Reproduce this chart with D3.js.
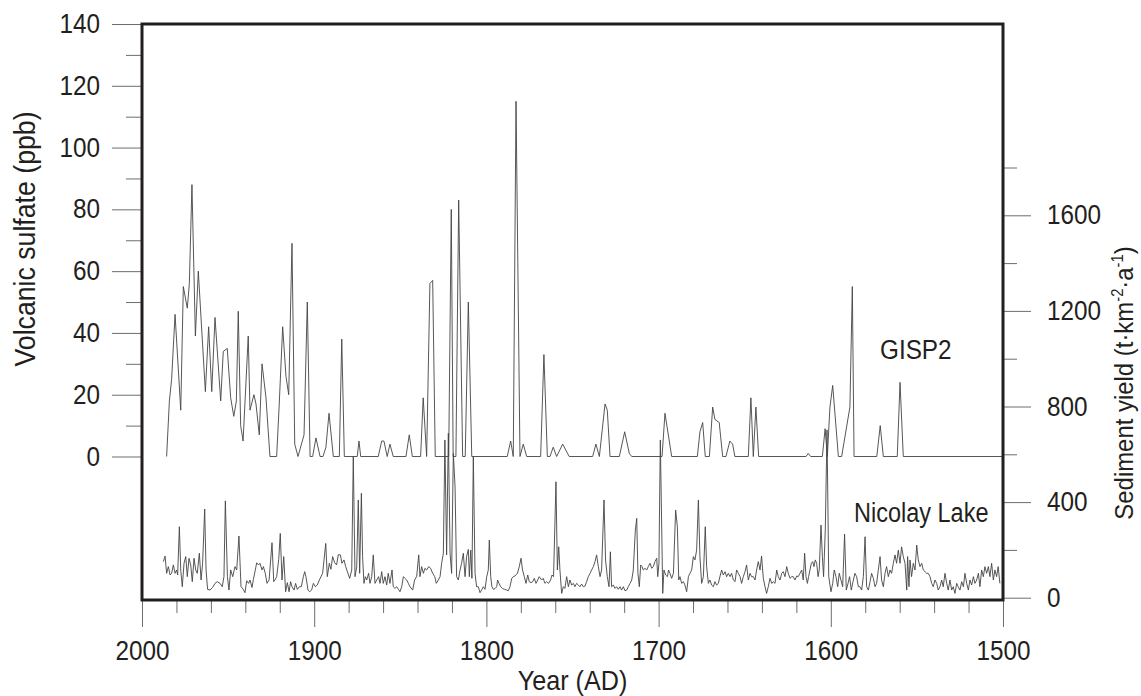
<!DOCTYPE html>
<html>
<head>
<meta charset="utf-8">
<script src="https://cdn.jsdelivr.net/npm/d3@7"></script>
<style>
  body { margin: 0; background: #fff; }
  svg text { font-family: "Liberation Sans", Arial, Helvetica, sans-serif; fill: #231f20; }
</style>
</head>
<body>
<svg></svg>
<script>
// GISP2 volcanic sulfate (ppb) as [year AD, value]
let gisp2 = [
  [1985.7,0],[1984.1,18],[1982.8,25],[1980.8,46],[1977.5,15],[1976,55],[1973.7,48],[1972.5,56],[1971,88],
  [1969,39],[1967.3,60],[1965,38],[1963.2,21],[1961.3,42],[1959.5,21],[1957.6,45],[1954.3,18],[1952.8,34],
  [1950.5,35],[1948.5,19],[1946.7,13],[1945.2,18],[1944.1,47],[1942.7,10],[1941.3,5],[1938.3,39],[1937.3,15],
  [1935,20],[1933.8,17],[1931.9,7],[1930.3,30],[1928,19],[1925.7,0],[1921.8,0],[1920.3,17],[1918.3,42],
  [1916.4,26],[1914.8,20],[1912.9,69],[1911.3,4],[1909.4,0],[1905.9,7],[1904,50],[1902.4,0],[1900.9,0],
  [1899,6],[1896.6,0],[1894.9,0],[1893.2,3],[1891.4,14],[1888.9,0],[1885.4,0],[1884,38],[1882.5,0],
  [1875,0],[1874,5],[1873,0],[1862.8,0],[1860.8,5],[1859.5,5],[1857.6,0],[1856,4],[1854.1,0],
  [1846.7,0],[1844.8,7],[1843,0],[1838.2,0],[1836.7,19],[1834.7,0],[1832.8,56],[1831.2,57],[1829.7,0],
  [1821.9,0],[1820.4,80],[1819.3,0],[1817.7,0],[1816.1,83],[1813.8,0],[1812.3,0],[1810.5,50],[1808.5,0],
  [1787.9,0],[1785.9,5],[1784.4,0],[1782.8,115],[1780.5,0],[1778.6,4],[1776.6,0],[1768.5,0],[1766.6,33],
  [1764.6,0],[1763.1,0],[1761.2,3],[1759.2,0],[1755.7,4],[1751.9,0],[1738.3,0],[1736.4,4],[1734.4,0],
  [1731.1,17],[1729.8,15],[1728.2,0],[1722.8,0],[1719.7,8],[1717,1],[1715.6,0],[1698,0],[1696.3,14],
  [1692.4,0],[1677.5,0],[1676,8],[1674.4,11],[1672.9,0],[1670.5,0],[1668.6,16],[1667.3,12],[1664.8,11],
  [1662.8,0],[1660.9,0],[1658.6,5],[1657,4],[1655.7,0],[1647.9,0],[1646.4,19],[1645,0],[1643.5,16],
  [1641.9,0],[1614.4,0],[1613.1,1],[1611.7,0],[1604.9,0],[1603.3,9],[1602,0],[1600.5,16],[1598.9,23],
  [1595.6,0],[1593.7,0],[1588.9,16],[1587.5,55],[1586.5,0],[1573.3,0],[1571.3,10],[1569.5,0],[1561.4,0],
  [1559.8,24],[1557.9,0],[1500,0]
]

// Nicolay Lake sediment yield (t km-2 a-1) as [year AD, value]
let nicolay = [
  [1987.6,151],[1986.6,174],[1985.7,102],[1984.7,130],[1983.7,95],[1982.8,102],[1981.8,137],[1980.8,102],
  [1979.9,116],[1979.3,95],[1978.3,297],[1977.5,116],[1976.6,46],[1975.6,144],[1974.6,172],[1973.7,88],
  [1972.7,165],[1971.7,137],[1970.8,67],[1969.8,165],[1968.8,116],[1967.9,102],[1966.7,186],[1965.7,74],
  [1964.8,144],[1963.6,371],[1962.8,116],[1961.9,35],[1960.5,32],[1959,43],[1957.6,60],[1956.3,67],
  [1954.7,60],[1953.4,46],[1952.4,88],[1951.6,405],[1950.4,88],[1949.5,32],[1948.5,116],[1947.3,88],
  [1946,130],[1945,116],[1943.7,258],[1942.5,46],[1941.2,35],[1940.2,21],[1939.2,71],[1938.1,60],
  [1937.3,74],[1936.1,43],[1935.3,77],[1934.2,116],[1933.4,146],[1932.3,137],[1931.5,144],[1930.3,116],
  [1929.5,130],[1928.4,102],[1927.4,60],[1926.2,74],[1924.5,230],[1923.5,67],[1922.8,74],[1921.8,88],
  [1920.6,160],[1919.7,269],[1918.7,74],[1917.7,172],[1916.6,25],[1915.6,63],[1914.6,25],[1913.7,67],
  [1912.9,46],[1911.7,32],[1910.8,60],[1909.8,35],[1908.6,46],[1907.5,46],[1906.3,88],[1905.5,109],
  [1904.8,88],[1903.6,32],[1902.6,25],[1901.5,32],[1900.5,60],[1899.3,46],[1898.2,53],[1897,74],
  [1895.1,102],[1893.3,227],[1892.4,88],[1891.2,144],[1890.3,119],[1889.3,172],[1888.1,146],[1887,137],
  [1886,180],[1884.8,179],[1883.9,144],[1882.7,158],[1881.7,130],[1880.4,102],[1879.4,81],[1878.2,116],
  [1877.3,590],[1876.3,88],[1875.3,130],[1874.4,409],[1873.6,102],[1872.6,437],[1871.9,172],[1871.1,60],
  [1870.3,88],[1869.5,74],[1868.4,102],[1867.6,60],[1866.6,88],[1865.7,179],[1864.7,60],[1863.7,74],
  [1862.6,88],[1861.8,60],[1860.8,109],[1859.9,60],[1858.9,88],[1857.9,53],[1857,102],[1856,60],
  [1854.8,116],[1854.1,46],[1853.1,39],[1852.1,46],[1851.1,35],[1850.2,25],[1849.2,46],[1848.2,88],
  [1847.3,81],[1846.3,74],[1845.3,60],[1844.4,46],[1842.8,32],[1841.7,74],[1840.5,88],[1839.3,179],
  [1838.6,88],[1837.6,130],[1836.6,102],[1835.7,123],[1834.7,116],[1833.5,130],[1832.4,123],[1831.2,102],
  [1830,88],[1829.1,60],[1827.9,74],[1826.9,88],[1826,144],[1825,186],[1824.1,660],[1823.1,179],
  [1822.1,688],[1821.1,186],[1820.2,102],[1819.2,604],[1818.2,464],[1817.3,88],[1816.3,74],[1815.3,116],
  [1814.4,144],[1813.4,186],[1812.4,88],[1811.5,172],[1810.5,202],[1809.9,88],[1809.1,199],[1808.4,81],
  [1807.6,590],[1806.6,102],[1805.7,46],[1804.7,46],[1803.7,21],[1802.8,32],[1801.8,46],[1800.8,35],
  [1799.8,88],[1798.9,116],[1798.3,241],[1797.5,88],[1796.8,46],[1796,35],[1795,38],[1794,46],
  [1793.5,74],[1792.7,60],[1791.7,46],[1790.6,38],[1789.4,35],[1788.2,32],[1787.3,29],[1786.3,46],
  [1785.3,81],[1784.4,88],[1783.4,91],[1782,102],[1780.9,130],[1779.9,165],[1779,116],[1778,88],
  [1777,60],[1776,95],[1775.1,67],[1774.1,63],[1773.1,67],[1772.2,81],[1771.2,60],[1770.2,74],
  [1769.3,88],[1767.9,74],[1767,81],[1766,60],[1765,67],[1763.9,60],[1762.7,74],[1761.9,95],
  [1761,88],[1759.6,485],[1758.8,116],[1758,213],[1757.3,116],[1756.3,18],[1755.3,46],[1754.4,39],
  [1753.4,88],[1752.4,46],[1751.5,74],[1750.5,53],[1749.5,60],[1748.6,46],[1747.6,60],[1746.6,53],
  [1745.7,46],[1744.7,57],[1743.7,46],[1742.7,49],[1741.8,67],[1740.8,88],[1739.8,102],[1738.9,116],
  [1737.9,130],[1736.9,151],[1736,179],[1735,130],[1734,88],[1733.1,116],[1731.7,409],[1730.8,158],
  [1729.8,88],[1728.8,46],[1728,192],[1727.3,46],[1726.3,53],[1725.3,39],[1724.4,46],[1723.4,35],
  [1722.4,46],[1721.5,32],[1720.5,46],[1719.5,29],[1718.5,32],[1717.6,46],[1716.6,60],[1715.6,74],
  [1714.7,116],[1713.5,283],[1712.7,332],[1712,102],[1711.2,46],[1710.4,137],[1709.6,130],[1708.9,116],
  [1707.9,123],[1706.9,116],[1706,130],[1705,144],[1704,123],[1703.1,130],[1702.1,151],[1701.1,165],
  [1700.5,88],[1699.8,144],[1699,660],[1697.6,18],[1696.9,116],[1695.9,95],[1694.9,88],[1694.2,116],
  [1693.4,102],[1692.4,81],[1691.4,102],[1690.1,367],[1689.1,297],[1688.3,74],[1687.6,88],[1686.6,60],
  [1685.6,67],[1684.7,53],[1683.7,25],[1682.7,88],[1681.8,102],[1680.8,116],[1679.8,172],[1678.9,158],
  [1677.9,199],[1676.9,409],[1676,172],[1675,60],[1674,88],[1672.9,297],[1672.1,130],[1671.1,60],
  [1670.2,74],[1669.2,53],[1668.2,46],[1667.3,67],[1666.3,53],[1665.3,60],[1664.4,88],[1663.4,116],
  [1662.4,95],[1661.4,109],[1660.5,88],[1659.5,102],[1658.5,88],[1657.6,102],[1656.6,74],[1655.6,67],
  [1654.7,116],[1653.7,102],[1652.7,88],[1651.8,60],[1650.8,88],[1649.8,109],[1648.9,137],[1647.9,74],
  [1646.9,102],[1646,88],[1645,88],[1644,74],[1643.1,116],[1642.1,151],[1641.1,116],[1640.2,174],
  [1639.2,81],[1638.2,46],[1637.3,18],[1636.3,46],[1635.3,81],[1634.3,60],[1633.4,67],[1632.4,60],
  [1631.4,116],[1630.5,88],[1629.5,74],[1628.5,102],[1627.6,109],[1626.6,88],[1625.6,130],[1624.7,102],
  [1623.7,81],[1622.7,88],[1621.8,88],[1620.8,74],[1619.8,91],[1618.9,88],[1617.9,102],[1616.9,116],
  [1616,74],[1615.2,186],[1614.4,88],[1613.6,60],[1612.9,88],[1612.1,116],[1611.3,144],[1610.5,151],
  [1609.8,130],[1609,158],[1608.2,144],[1607.4,88],[1606.7,116],[1605.7,304],[1604.9,172],[1604.2,88],
  [1603.2,283],[1602.2,702],[1601.2,88],[1599.9,25],[1598.9,60],[1598,116],[1597,88],[1596,46],
  [1595.1,102],[1594.1,74],[1593.1,46],[1592,266],[1591,32],[1590,60],[1589.1,88],[1588.1,32],
  [1587.1,67],[1586,102],[1585,88],[1584,46],[1583.1,46],[1582.1,32],[1581.1,88],[1580.1,255],
  [1579.2,46],[1578.2,32],[1577.2,67],[1576.3,102],[1575.3,81],[1574.3,46],[1573.4,60],[1572.4,116],
  [1571.4,172],[1570.5,74],[1569.5,46],[1568.5,102],[1567.6,130],[1566.6,88],[1565.6,116],[1564.7,102],
  [1563.7,144],[1562.7,179],[1561.8,144],[1560.8,199],[1559.8,144],[1558.9,213],[1557.9,172],[1556.9,144],
  [1555.9,32],[1555.4,172],[1554.6,46],[1554,158],[1553.1,88],[1552.1,144],[1551.1,116],[1550.1,220],
  [1549.2,158],[1548.2,130],[1547.2,144],[1546.3,116],[1545.3,109],[1544.3,102],[1543.4,102],[1542.4,88],
  [1541.4,60],[1540.5,46],[1539.5,74],[1538.5,60],[1537.6,32],[1536.6,46],[1535.6,74],[1534.7,46],
  [1533.7,102],[1532.7,60],[1531.8,32],[1530.8,74],[1529.8,32],[1528.9,46],[1527.9,18],[1526.9,60],
  [1526,46],[1525,32],[1524,67],[1523,46],[1522.1,102],[1521.1,60],[1520.1,32],[1519.2,74],
  [1518.2,53],[1517.2,88],[1516.3,60],[1515.3,74],[1514.3,102],[1513.4,46],[1512.4,116],[1511.4,88],
  [1510.5,130],[1509.5,102],[1508.5,130],[1507.6,88],[1506.6,144],[1505.6,74],[1504.7,116],[1503.7,88],
  [1502.8,130],[1501.8,60]
]

let xTicks = [2000, 1900, 1800, 1700, 1600, 1500]
let xMinor = [1980, 1960, 1940, 1920, 1880, 1860, 1840, 1820, 1780, 1760, 1740, 1720,
              1680, 1660, 1640, 1620, 1580, 1560, 1540, 1520]
let leftTicks = [0, 20, 40, 60, 80, 100, 120, 140]
let leftMinor = [10, 30, 50, 70, 90, 110, 130]
let rightTicks = [0, 400, 800, 1200, 1600]
let rightMinor = [200, 600, 1000, 1400, 1800]

// canvas and plot box
let width = 1141
let height = 696
let boxLeft = 142
let boxRight = 1003
let boxTop = 24
let boxBottom = 600

let fontFamily = '"Liberation Sans", Arial, Helvetica, sans-serif'
let ink = "#231f20"

let svg = d3.select("svg")
  .attr("width", width)
  .attr("height", height)

let xScale = d3.scaleLinear().domain([2000, 1500]).range([boxLeft, boxRight])
let yLeft = d3.scaleLinear().domain([0, 140]).range([456.5, boxTop])
let yRight = d3.scaleLinear().domain([0, 1800]).range([597.7, 167.5])

// squeeze text horizontally (the original uses a narrow face)
let squeeze = (sel, k) => {
  sel.each(function () {
    let w = this.getComputedTextLength()
    d3.select(this).attr("textLength", w * k).attr("lengthAdjust", "spacingAndGlyphs")
  })
}

let styleAxis = (g) => {
  g.select(".domain").remove()
  g.attr("font-family", fontFamily).attr("font-size", 27)
  g.selectAll(".tick line").attr("stroke", "#6d6d6d").attr("stroke-width", 1)
  g.selectAll(".tick text").attr("fill", ink)
}

// left axis
svg.append("g")
  .attr("transform", "translate(" + boxLeft + ",0)")
  .call(d3.axisLeft(yLeft).tickValues(leftTicks).tickSize(30).tickPadding(12))
  .call(styleAxis)
  .call(g => squeeze(g.selectAll("text"), 0.9))

svg.append("g")
  .attr("transform", "translate(" + boxLeft + ",0)")
  .call(d3.axisLeft(yLeft).tickValues(leftMinor).tickSize(16).tickFormat(""))
  .call(styleAxis)

// right axis
svg.append("g")
  .attr("transform", "translate(" + boxRight + ",0)")
  .call(d3.axisRight(yRight).tickValues(rightTicks).tickSize(28).tickPadding(16).tickFormat(d3.format("d")))
  .call(styleAxis)
  .call(g => squeeze(g.selectAll("text"), 0.9))

svg.append("g")
  .attr("transform", "translate(" + boxRight + ",0)")
  .call(d3.axisRight(yRight).tickValues(rightMinor).tickSize(14).tickFormat(""))
  .call(styleAxis)

// bottom axis
svg.append("g")
  .attr("transform", "translate(0," + boxBottom + ")")
  .call(d3.axisBottom(xScale).tickValues(xTicks).tickSize(27).tickPadding(14).tickFormat(d3.format("d")))
  .call(styleAxis)
  .call(g => squeeze(g.selectAll("text"), 0.9))

svg.append("g")
  .attr("transform", "translate(0," + boxBottom + ")")
  .call(d3.axisBottom(xScale).tickValues(xMinor).tickSize(13).tickFormat(""))
  .call(styleAxis)

// series
let gisp2Line = d3.line()
  .x(d => xScale(d[0]))
  .y(d => yLeft(d[1]))

let nicolayLine = d3.line()
  .x(d => xScale(d[0]))
  .y(d => yRight(d[1]))

svg.append("path")
  .datum(nicolay)
  .attr("fill", "none")
  .attr("stroke", "#444")
  .attr("stroke-width", 0.9)
  .attr("d", nicolayLine)

svg.append("path")
  .datum(gisp2)
  .attr("fill", "none")
  .attr("stroke", "#444")
  .attr("stroke-width", 0.9)
  .attr("d", gisp2Line)

// frame
svg.append("rect")
  .attr("x", boxLeft)
  .attr("y", boxTop)
  .attr("width", boxRight - boxLeft)
  .attr("height", boxBottom - boxTop)
  .attr("fill", "none")
  .attr("stroke", ink)
  .attr("stroke-width", 3)

// series labels
svg.append("text")
  .attr("x", 880)
  .attr("y", 359)
  .attr("font-size", 27)
  .text("GISP2")
  .call(s => squeeze(s, 0.9))

svg.append("text")
  .attr("x", 854)
  .attr("y", 522)
  .attr("font-size", 27)
  .text("Nicolay Lake")
  .call(s => squeeze(s, 0.87))

// axis titles
svg.append("text")
  .attr("transform", "translate(" + (boxLeft + boxRight) / 2 + ",690) scale(0.9,1)")
  .attr("text-anchor", "middle")
  .attr("font-size", 28)
  .text("Year (AD)")

svg.append("text")
  .attr("transform", "translate(35,239) rotate(-90) scale(0.92,1)")
  .attr("text-anchor", "middle")
  .attr("font-size", 29)
  .text("Volcanic sulfate (ppb)")

let rightTitle = svg.append("text")
  .attr("transform", "translate(1133,383) rotate(-90) scale(0.92,1)")
  .attr("text-anchor", "middle")
  .attr("font-size", 26)

rightTitle.append("tspan").text("Sediment yield (t·km")
rightTitle.append("tspan").attr("font-size", 16).attr("dy", -10).text("-2")
rightTitle.append("tspan").attr("dy", 10).text("·a")
rightTitle.append("tspan").attr("font-size", 16).attr("dy", -10).text("-1")
rightTitle.append("tspan").attr("dy", 10).text(")")
</script>
</body>
</html>
